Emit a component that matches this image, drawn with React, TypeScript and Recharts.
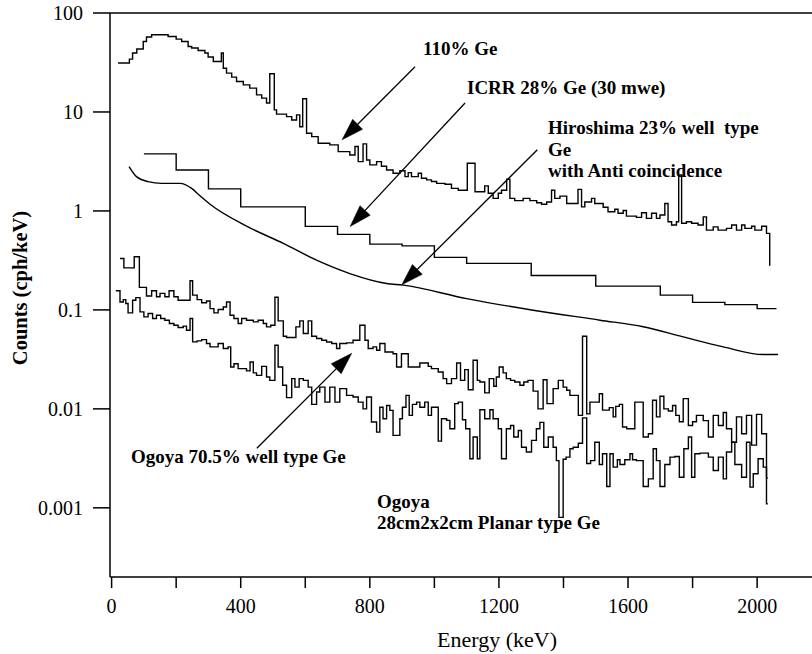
import React from 'react';
import { ComposedChart, Line, XAxis, YAxis, ReferenceLine, Customized } from 'recharts';

const FONT = 'Liberation Serif, Times New Roman, Times, DejaVu Serif, serif';

// Axis ticks
const xTicks = [0, 200, 400, 600, 800, 1000, 1200, 1400, 1600, 1800, 2000];
const xLabelled = [0, 400, 800, 1200, 1600, 2000];
const yTicks = [0.001, 0.01, 0.1, 1, 10, 100];
const yTickLabels = ['0.001', '0.01', '0.1', '1', '10', '100'];

// 110% Ge (bin start energy, keV / counts cph/keV)
const ge110Energy = [20, 55, 65, 78, 98, 108, 124, 175, 200, 217, 237, 248, 268, 289, 299, 315, 340, 346, 356, 372, 387, 408, 428, 449, 465, 480, 490, 504, 511, 542, 558, 573, 583, 592, 604, 620, 640, 676, 702, 738, 754, 764, 779, 790, 800, 821, 836, 852, 872, 893, 909, 919, 929, 950, 960, 976, 991, 1007, 1033, 1053, 1074, 1102, 1126, 1156, 1167, 1182, 1198, 1208, 1224, 1234, 1249, 1275, 1296, 1317, 1332, 1348, 1363, 1373, 1389, 1410, 1425, 1445, 1456, 1466, 1487, 1497, 1523, 1538, 1559, 1569, 1585, 1595, 1626, 1642, 1657, 1673, 1688, 1699, 1714, 1724, 1735, 1750, 1757, 1766, 1781, 1797, 1817, 1833, 1843, 1864, 1879, 1905, 1921, 1936, 1952, 1962, 1983, 1993, 2014, 2029, 2039];
const ge110Counts = [31.2, 34.2, 39.4, 43.2, 51.6, 57.2, 60.3, 57.9, 54.5, 51.6, 45.9, 44.3, 41.8, 39.4, 35.9, 32.4, 39.4, 27.7, 24.7, 22.5, 20.3, 18.8, 17.4, 14.9, 13.8, 12.3, 24.3, 10.5, 9.5, 8.98, 8.3, 9.35, 7.1, 13.6, 6.1, 5.64, 4.83, 4.65, 3.97, 3.68, 4.47, 3.15, 4.76, 3.27, 2.92, 3.15, 2.83, 2.59, 2.40, 2.55, 2.22, 2.44, 2.22, 2.40, 2.14, 2.06, 1.98, 1.90, 1.86, 1.69, 1.62, 3.03, 1.56, 1.79, 1.51, 1.34, 1.51, 1.62, 2.09, 1.34, 1.27, 1.34, 1.27, 1.21, 1.17, 1.23, 1.62, 1.34, 1.41, 1.19, 1.19, 1.65, 1.10, 1.23, 1.34, 1.19, 1.09, 0.98, 1.04, 0.946, 1.01, 0.887, 0.86, 0.96, 0.84, 0.946, 0.84, 0.91, 1.19, 0.778, 0.72, 0.778, 2.31, 0.75, 0.778, 0.75, 0.72, 0.87, 0.64, 0.69, 0.64, 0.667, 0.72, 0.64, 0.72, 0.667, 0.70, 0.64, 0.70, 0.593, 0.28];

// ICRR 28% Ge (30 mwe)
const icrrEnergy = [100, 200, 300, 400, 600, 700, 800, 900, 1000, 1100, 1300, 1500, 1700, 1800, 1900, 2000, 2060];
const icrrCounts = [3.77, 2.59, 1.67, 1.10, 0.698, 0.579, 0.462, 0.444, 0.339, 0.295, 0.223, 0.174, 0.141, 0.119, 0.113, 0.103, 0.103];

// Hiroshima 23% well type Ge with anti coincidence
const hiroEnergy = [54, 77, 113, 155, 212, 248, 271, 305, 418, 532, 635, 738, 852, 903, 1100, 1306, 1513, 1647, 1771, 1895, 2019, 2065];
const hiroCounts = [2.80, 2.22, 1.98, 1.90, 1.90, 1.69, 1.45, 1.17, 0.703, 0.470, 0.318, 0.233, 0.185, 0.178, 0.130, 0.0993, 0.0787, 0.0676, 0.0533, 0.0423, 0.0354, 0.0354];

// Ogoya 70.5% well type Ge
const wellEnergy = [26, 38, 70, 86, 108, 124, 139, 150, 165, 178, 193, 206, 243, 251, 265, 279, 294, 305, 317, 330, 346, 356, 367, 379, 392, 403, 418, 439, 454, 470, 480, 493, 506, 516, 532, 542, 571, 583, 594, 609, 620, 635, 651, 666, 682, 697, 707, 728, 748, 769, 785, 795, 810, 821, 831, 847, 872, 883, 898, 919, 955, 981, 991, 1012, 1027, 1038, 1053, 1069, 1081, 1094, 1105, 1120, 1133, 1141, 1156, 1170, 1184, 1192, 1201, 1213, 1223, 1236, 1249, 1265, 1277, 1290, 1306, 1321, 1337, 1349, 1368, 1384, 1399, 1410, 1420, 1446, 1459, 1472, 1482, 1511, 1521, 1542, 1554, 1562, 1573, 1583, 1596, 1621, 1647, 1663, 1676, 1688, 1699, 1711, 1725, 1738, 1748, 1759, 1771, 1787, 1800, 1812, 1833, 1849, 1864, 1880, 1895, 1905, 1921, 1936, 1952, 1967, 1983, 1998, 2014, 2029, 2033];
const wellCounts = [0.331, 0.266, 0.344, 0.169, 0.138, 0.156, 0.136, 0.147, 0.136, 0.156, 0.136, 0.125, 0.197, 0.141, 0.127, 0.118, 0.123, 0.103, 0.0933, 0.101, 0.107, 0.120, 0.0883, 0.0818, 0.0728, 0.0818, 0.0787, 0.0757, 0.0787, 0.0728, 0.0673, 0.0700, 0.134, 0.0774, 0.0542, 0.0526, 0.0673, 0.0774, 0.0577, 0.0774, 0.0542, 0.0514, 0.0493, 0.0474, 0.0457, 0.0407, 0.0457, 0.0464, 0.0493, 0.0700, 0.0493, 0.0407, 0.0423, 0.0391, 0.0457, 0.0376, 0.0361, 0.0265, 0.0361, 0.0265, 0.0291, 0.0269, 0.0255, 0.0236, 0.0202, 0.0180, 0.0202, 0.0291, 0.0194, 0.0249, 0.0156, 0.0310, 0.0194, 0.0187, 0.0145, 0.0202, 0.0169, 0.0210, 0.0265, 0.0231, 0.0202, 0.0194, 0.0187, 0.0173, 0.0187, 0.0194, 0.0151, 0.0100, 0.0197, 0.0113, 0.0160, 0.0194, 0.0166, 0.0154, 0.0137, 0.0086, 0.0542, 0.0089, 0.0117, 0.0142, 0.0097, 0.0103, 0.0083, 0.0106, 0.0111, 0.00655, 0.0063, 0.0117, 0.0052, 0.0056, 0.0122, 0.0083, 0.0134, 0.0100, 0.0095, 0.0108, 0.0086, 0.0074, 0.0127, 0.0068, 0.0074, 0.0086, 0.0076, 0.0052, 0.0086, 0.0068, 0.0092, 0.0063, 0.0046, 0.0083, 0.0056, 0.0086, 0.0043, 0.0088, 0.0056, 0.0020, 0.0020];

// Ogoya 28cm2x2cm planar type Ge
const planarEnergy = [13, 26, 36, 44, 51, 65, 75, 88, 100, 113, 127, 139, 152, 165, 179, 193, 206, 222, 232, 243, 251, 265, 279, 294, 305, 330, 346, 361, 369, 379, 392, 403, 418, 429, 439, 449, 465, 480, 490, 506, 516, 530, 542, 558, 568, 581, 594, 609, 620, 635, 645, 661, 676, 692, 707, 728, 748, 764, 779, 790, 805, 821, 831, 841, 852, 862, 872, 893, 901, 912, 922, 932, 945, 955, 970, 981, 991, 1012, 1022, 1038, 1048, 1063, 1074, 1087, 1097, 1110, 1120, 1133, 1141, 1156, 1172, 1182, 1198, 1208, 1223, 1236, 1246, 1260, 1270, 1285, 1301, 1316, 1327, 1339, 1353, 1368, 1378, 1386, 1399, 1408, 1420, 1430, 1446, 1459, 1472, 1484, 1497, 1511, 1521, 1534, 1544, 1554, 1567, 1575, 1590, 1606, 1614, 1626, 1647, 1663, 1678, 1688, 1699, 1714, 1730, 1745, 1759, 1773, 1787, 1797, 1807, 1823, 1849, 1864, 1880, 1895, 1905, 1921, 1931, 1952, 1967, 1978, 1988, 2003, 2019, 2029, 2033];
const planarCounts = [0.156, 0.120, 0.127, 0.116, 0.0933, 0.125, 0.133, 0.0955, 0.0851, 0.0919, 0.0818, 0.0883, 0.0818, 0.0787, 0.0728, 0.0700, 0.0663, 0.0685, 0.0623, 0.0818, 0.0475, 0.0486, 0.0501, 0.0457, 0.0423, 0.0457, 0.0407, 0.0423, 0.0265, 0.0286, 0.0255, 0.0255, 0.0242, 0.0298, 0.0231, 0.0218, 0.0269, 0.0210, 0.0194, 0.0440, 0.0265, 0.0173, 0.0130, 0.0202, 0.0166, 0.0202, 0.0194, 0.0166, 0.0111, 0.0148, 0.0166, 0.0117, 0.0166, 0.0117, 0.0160, 0.0137, 0.0132, 0.0117, 0.0100, 0.0132, 0.00736, 0.00582, 0.0104, 0.00795, 0.0108, 0.00966, 0.0054, 0.00795, 0.0104, 0.0137, 0.0086, 0.0111, 0.0117, 0.0104, 0.0117, 0.0086, 0.0104, 0.00472, 0.00795, 0.00765, 0.0063, 0.0113, 0.0117, 0.00777, 0.0063, 0.00313, 0.0052, 0.00313, 0.0098, 0.00795, 0.0098, 0.00795, 0.0063, 0.00313, 0.0063, 0.0068, 0.0052, 0.00605, 0.0041, 0.00366, 0.0048, 0.0063, 0.0073, 0.0041, 0.0052, 0.0041, 0.0030, 0.0008, 0.0031, 0.00325, 0.00395, 0.0041, 0.0045, 0.0081, 0.0028, 0.0030, 0.0046, 0.00274, 0.00352, 0.00164, 0.00352, 0.00258, 0.00306, 0.00274, 0.00306, 0.00352, 0.00306, 0.0030, 0.00164, 0.00196, 0.00395, 0.0030, 0.00164, 0.00274, 0.00325, 0.0033, 0.00204, 0.00395, 0.0052, 0.00204, 0.00352, 0.00357, 0.00325, 0.00238, 0.00325, 0.00196, 0.00366, 0.0046, 0.00274, 0.00204, 0.0046, 0.00162, 0.00221, 0.00313, 0.00258, 0.0011, 0.0011];

// Annotation arrows (tail -> tip), in data coordinates
const arrowTails = [{ x: 940, y: 28.6 }, { x: 1095, y: 12.3 }, { x: 1319, y: 4.15 }, { x: 450, y: 0.004 }];
const arrowTips = [{ x: 714, y: 5.23 }, { x: 739, y: 0.696 }, { x: 899, y: 0.179 }, { x: 744, y: 0.0365 }];

const toPoints = (xs: number[], ys: number[]) => xs.map((x, i) => ({ x, y: ys[i] }));

const ge110Data = toPoints(ge110Energy, ge110Counts);
const icrrData = toPoints(icrrEnergy, icrrCounts);
const hiroData = toPoints(hiroEnergy, hiroCounts);
const wellData = toPoints(wellEnergy, wellCounts);
const planarData = toPoints(planarEnergy, planarCounts);

const arrowShape = (p: any) => {
  const { x1, y1, x2, y2 } = p;
  const dx = x2 - x1;
  const dy = y2 - y1;
  const len = Math.hypot(dx, dy) || 1;
  const ux = dx / len;
  const uy = dy / len;
  const hl = 22;
  const hw = 7;
  const bx = x2 - ux * hl;
  const by = y2 - uy * hl;
  const pts = `${x2},${y2} ${bx - uy * hw},${by + ux * hw} ${bx + uy * hw},${by - ux * hw}`;
  return (
    <g>
      <line x1={x1} y1={y1} x2={bx + ux * 2} y2={by + uy * 2} stroke="#000" strokeWidth={1.3} />
      <polygon points={pts} fill="#000" stroke="#000" strokeWidth={0.5} />
    </g>
  );
};

const boldStyle: React.CSSProperties = { fontFamily: FONT, fontWeight: 700, fontSize: 19, fill: '#000', whiteSpace: 'pre' };

const Annotations = () => (
  <g>
    <text x={423} y={55} style={boldStyle}>110% Ge</text>
    <text x={467} y={94} style={boldStyle}>ICRR 28% Ge (30 mwe)</text>
    <text x={548} y={134} style={boldStyle}>Hiroshima 23% well  type</text>
    <text x={548} y={156} style={boldStyle}>Ge</text>
    <text x={548} y={177} style={boldStyle}>with Anti coincidence</text>
    <text x={131} y={463} style={boldStyle}>Ogoya 70.5% well type Ge</text>
    <text x={377} y={508} style={boldStyle}>Ogoya</text>
    <text x={377} y={529} style={boldStyle}>28cm2x2cm Planar type Ge</text>
    <text x={497} y={647} textAnchor="middle" style={{ fontFamily: FONT, fontSize: 22, fill: '#000' }}>Energy (keV)</text>
    <text
      x={26.5}
      y={288}
      textAnchor="middle"
      transform="rotate(-90 26.5 288)"
      style={{ fontFamily: FONT, fontSize: 20.5, fontWeight: 700, fill: '#000' }}
    >
      Counts (cph/keV)
    </text>
  </g>
);

const lineCommon = {
  dataKey: 'y',
  stroke: '#000',
  strokeWidth: 1.4,
  dot: false,
  activeDot: false,
  isAnimationActive: false,
  legendType: 'none' as const,
};

const tickStyle = { fill: '#000', fontSize: 20, fontFamily: FONT, style: { fontFamily: FONT } };

export default function App() {
  return (
    <div style={{ position: 'absolute', left: 0, top: 0, background: '#fff', fontFamily: FONT }}>
      <ComposedChart width={812} height={654} margin={{ top: 13, right: 0, bottom: 0, left: 0 }} style={{ fontFamily: FONT }}>
        <XAxis
          type="number"
          dataKey="x"
          domain={[-5, 2170]}
          allowDataOverflow
          ticks={xTicks}
          interval={0}
          tickFormatter={(v: number) => (xLabelled.includes(v) ? String(v) : '')}
          height={77}
          tickSize={11}
          tickMargin={11}
          axisLine={{ stroke: '#000', strokeWidth: 1.5 }}
          tickLine={{ stroke: '#000', strokeWidth: 1.5 }}
          tick={tickStyle}
        />
        <YAxis
          scale="log"
          domain={[0.0002, 100]}
          allowDataOverflow
          ticks={yTicks}
          interval={0}
          tickFormatter={(v: number) => yTickLabels[yTicks.indexOf(v)] ?? ''}
          width={110}
          tickSize={17}
          tickMargin={10}
          axisLine={{ stroke: '#000', strokeWidth: 1.5 }}
          tickLine={{ stroke: '#000', strokeWidth: 1.5 }}
          tick={tickStyle}
        />
        <ReferenceLine y={100} stroke="#000" strokeWidth={1.5} ifOverflow="visible" />
        <Line {...lineCommon} data={ge110Data} type="stepAfter" name="110% Ge" />
        <Line {...lineCommon} data={icrrData} type="stepAfter" name="ICRR 28% Ge" />
        <Line {...lineCommon} data={hiroData} type="monotone" name="Hiroshima 23% well type Ge" />
        <Line {...lineCommon} data={wellData} type="stepAfter" name="Ogoya 70.5% well type Ge" />
        <Line {...lineCommon} data={planarData} type="stepAfter" name="Ogoya planar type Ge" />
        {arrowTails.map((t, i) => (
          <ReferenceLine key={i} segment={[t, arrowTips[i]]} ifOverflow="visible" shape={arrowShape} />
        ))}
        <Customized component={Annotations} />
      </ComposedChart>
    </div>
  );
}
